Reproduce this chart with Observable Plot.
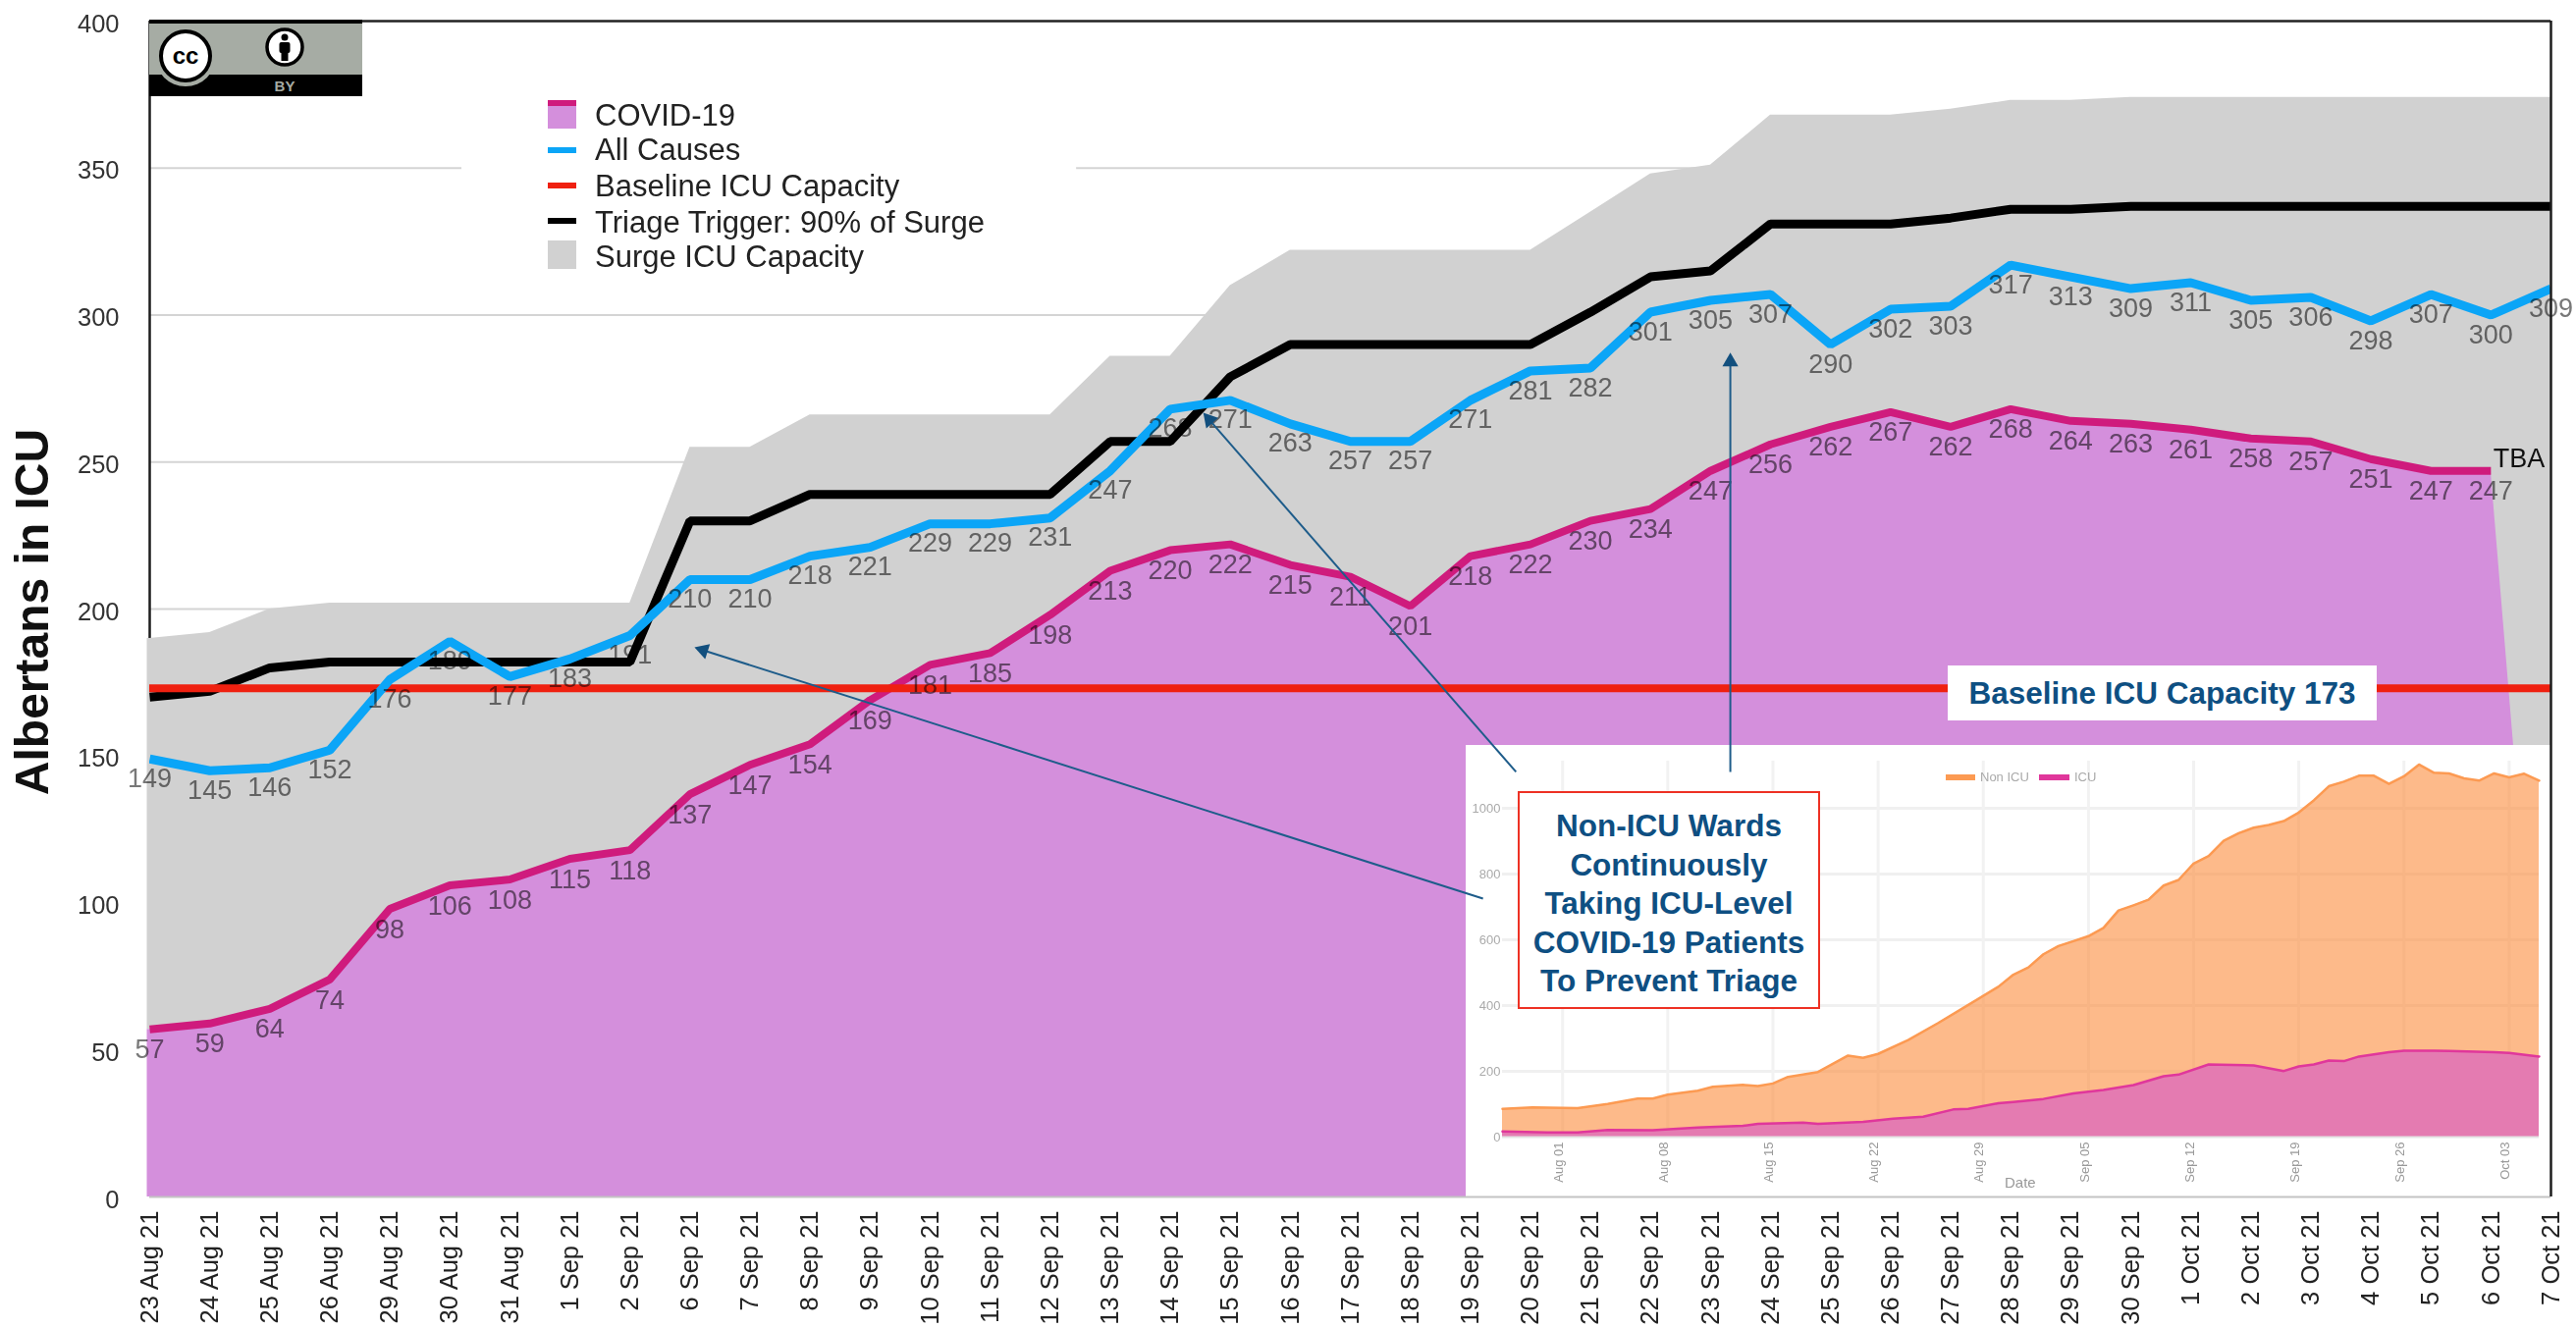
<!DOCTYPE html>
<html>
<head>
<meta charset="utf-8">
<script src="https://cdn.jsdelivr.net/npm/d3@7"></script>
<script src="https://cdn.jsdelivr.net/npm/@observablehq/plot@0.6"></script>
<style>
  html, body { margin: 0; padding: 0; background: #fff; overflow: hidden; }
  body { width: 2624px; height: 1353px; position: relative; font-family: "Liberation Sans", Helvetica, Arial, sans-serif; }
  .layer { position: absolute; left: 0; top: 0; }
  .layer svg, svg.layer { display: block; background: transparent; overflow: visible; }
  .abs { position: absolute; white-space: nowrap; }
  .legend-text { left: 606px; font-size: 31px; line-height: 36px; color: #222; transform: translateY(-18px); }
  .swatch { position: absolute; left: 558px; width: 29px; }
</style>
</head>
<body>
<script>
// ---------- main chart data ----------
const dateLabels = [
  "23 Aug 21","24 Aug 21","25 Aug 21","26 Aug 21","29 Aug 21","30 Aug 21","31 Aug 21",
  "1 Sep 21","2 Sep 21","6 Sep 21","7 Sep 21","8 Sep 21","9 Sep 21","10 Sep 21","11 Sep 21",
  "12 Sep 21","13 Sep 21","14 Sep 21","15 Sep 21","16 Sep 21","17 Sep 21","18 Sep 21","19 Sep 21",
  "20 Sep 21","21 Sep 21","22 Sep 21","23 Sep 21","24 Sep 21","25 Sep 21","26 Sep 21","27 Sep 21",
  "28 Sep 21","29 Sep 21","30 Sep 21","1 Oct 21","2 Oct 21","3 Oct 21","4 Oct 21","5 Oct 21","6 Oct 21","7 Oct 21"
];
const covid = [57,59,64,74,98,106,108,115,118,137,147,154,169,181,185,198,213,220,222,215,211,201,218,222,230,234,247,256,262,267,262,268,264,263,261,258,257,251,247,247];
const covidArea = [57,59,64,74,98,106,108,115,118,137,147,154,169,181,185,198,213,220,222,215,211,201,218,222,230,234,247,256,262,267,262,268,264,263,261,258,257,251,247,247,0];
const allCauses = [149,145,146,152,176,189,177,183,191,210,210,218,221,229,229,231,247,268,271,263,257,257,271,281,282,301,305,307,290,302,303,317,313,309,311,305,306,298,307,300,309];
const trigger = [170,172,180,182,182,182,182,182,182,230,230,239,239,239,239,239,257,257,279,290,290,290,290,290,301,313,315,331,331,331,333,336,336,337,337,337,337,337,337,337,337];
const surge = [190,192,200,202,202,202,202,202,202,255,255,266,266,266,266,266,286,286,310,322,322,322,322,322,335,348,351,368,368,368,370,373,373,374,374,374,374,374,374,374,374];
const baseline = 173;
const yTicks = [0,50,100,150,200,250,300,350,400];
const gridLeft = [300,250,200,150,100,50];

// annotation arrows: from index/value to index/value (head rotation in degrees)
const arrowFromIdx = [22.21,22.76,26.33];
const arrowFromVal = [101.5,144.6,144.6];
const arrowToIdx = [9.22,17.65,26.33];
const arrowToVal = [186,264.4,284.1];
const arrowAngle = [-72.4,-41,0];

// ---------- inset chart data (days after 28 Jul 2021) ----------
const totalDay = [0,2,5,7,9,10,11,13,14,16,17,18,19,21,23,24,25,27,29,31,33,34,35,36,37,38,39,40,41,42,43,44,45,46,47,48,49,50,51,52,53,54,55,56,57,58,59,60,61,62,63,64,65,66,67,68,69];
const totalVal = [86,90,88,101,117,117,129,141,153,159,155,163,183,198,248,241,253,295,347,402,457,494,516,556,581,596,611,636,689,705,722,765,782,832,855,901,924,941,949,961,987,1024,1067,1081,1099,1099,1074,1097,1133,1108,1106,1091,1084,1106,1094,1105,1084];
const icuDay = [0,3,5,7,10,13,16,17,20,21,24,26,28,30,31,33,34,36,38,40,42,44,45,47,50,52,53,54,55,56,57,59,60,62,63,66,67,69];
const icuVal = [17,14,14,22,21,29,34,40,44,40,46,56,62,84,86,103,107,116,133,143,158,185,190,221,218,201,215,221,233,231,245,258,263,263,262,258,256,245];
const insetTickDays = [4,11,18,25,32,39,46,53,60,67];
const insetYTicks = [0,200,400,600,800,1000];

// ---------- shared main-plot geometry ----------
const mainGeom = {
  width: 2624, height: 1353,
  marginLeft: 152, marginRight: 26, marginTop: 21, marginBottom: 134
};
const rows = a => a.map((v, i) => ({ i, v }));
const labelFill = "#787878";
const labelFont = 27;

const main = Plot.plot({
  ...mainGeom,
  x: { type: "linear", domain: [0, 40] },
  y: { type: "linear", domain: [0, 400] },
  style: { fontFamily: "Liberation Sans, Helvetica, Arial, sans-serif", background: "transparent", overflow: "visible" },
  marks: [
    Plot.ruleY(gridLeft, { stroke: "#d4d4d4", strokeWidth: 2 }),
    // 350 gridline is interrupted by the legend's white backing
    Plot.ruleY([350], { x1: 0, x2: 5.2, stroke: "#d4d4d4", strokeWidth: 2 }),
    Plot.ruleY([350], { x1: 15.44, x2: 40, stroke: "#d4d4d4", strokeWidth: 2 }),
    // left axis is hidden behind the capacity areas
    Plot.ruleX([0], { y1: 190, y2: 400, stroke: "#1c1c1c", strokeWidth: 2.5 }),
    Plot.areaY(rows(surge), { x: "i", y: "v", fill: "#d1d1d1" }),
    Plot.areaY(rows(covidArea), { x: "i", y: "v", fill: "#d48fdc" }),
    Plot.ruleX([0], { y1: 57, y2: 190, stroke: "#d1d1d1", strokeWidth: 3, dx: -1.5 }),
    Plot.ruleX([0], { y1: 0, y2: 57, stroke: "#d48fdc", strokeWidth: 3, dx: -1.5 }),
    Plot.lineY(rows(covid), { x: "i", y: "v", stroke: "#cf1b7d", strokeWidth: 8, strokeLinecap: "butt", strokeLinejoin: "miter", clip: true }),
    Plot.lineY(rows(trigger), { x: "i", y: "v", stroke: "#000", strokeWidth: 9, strokeLinecap: "butt", strokeLinejoin: "miter", clip: true }),
    Plot.ruleY([baseline], { stroke: "#ef2010", strokeWidth: 8 }),
    Plot.lineY(rows(allCauses), { x: "i", y: "v", stroke: "#0ba5f7", strokeWidth: 9, strokeLinecap: "butt", strokeLinejoin: "miter", clip: true }),
    Plot.text(rows(covid), { x: "i", y: "v", text: d => String(d.v), dy: 21, fontSize: labelFont, fill: labelFill, mixBlendMode: "multiply" }),
    Plot.text(rows(allCauses), { x: "i", y: "v", text: d => String(d.v), dy: 20, fontSize: labelFont, fill: labelFill, mixBlendMode: "multiply" }),
    Plot.text(["TBA"], { x: 39.47, y: 251, text: d => d, fontSize: 27, fill: "#111" }),
    Plot.axisY({ ticks: yTicks, tickSize: 0, tickPadding: 31, fontSize: 25.5, color: "#333", label: null, dy: 3 }),
    Plot.axisX({ ticks: dateLabels.map((d, i) => i), tickFormat: i => dateLabels[i], tickRotate: -90, tickSize: 0, tickPadding: 14, fontSize: 25.5, color: "#222", label: null }),
    Plot.text(["Albertans in ICU"], { x: -1.94, y: 199, text: d => d, rotate: -90, fontSize: 48, fontWeight: "bold", fill: "#111" })
  ]
});
const mainWrap = document.createElement("div");
mainWrap.className = "layer";
mainWrap.append(main);
document.body.append(mainWrap);

// ---------- inset ----------
const day = d => new Date(Date.UTC(2021, 6, 28 + d));
const insetTop = 759, insetLeft = 1493;
const inset = Plot.plot({
  width: 1105, height: 461,
  marginLeft: 37, marginRight: 12, marginTop: 0, marginBottom: 62,
  x: { type: "utc", domain: [day(0), day(69)] },
  y: { domain: [0, 1191] },
  style: { fontFamily: "Liberation Sans, Helvetica, Arial, sans-serif", background: "#fff", overflow: "visible" },
  marks: [
    Plot.ruleY(insetYTicks.slice(1), { stroke: "#f0f0f0", strokeWidth: 3 }),
    Plot.ruleX(insetTickDays.map(day), { y1: 0, y2: 1143, stroke: "#f2f2f2", strokeWidth: 3 }),
    Plot.areaY(totalDay.map((d, i) => ({ d: day(d), v: totalVal[i] })), { x: "d", y: "v", fill: "#fb8c3c", fillOpacity: 0.6 }),
    Plot.lineY(totalDay.map((d, i) => ({ d: day(d), v: totalVal[i] })), { x: "d", y: "v", stroke: "#fc9a52", strokeWidth: 2.5 }),
    Plot.areaY(icuDay.map((d, i) => ({ d: day(d), v: icuVal[i] })), { x: "d", y: "v", fill: "#e47bb1" }),
    Plot.lineY(icuDay.map((d, i) => ({ d: day(d), v: icuVal[i] })), { x: "d", y: "v", stroke: "#e0379b", strokeWidth: 2.5 }),
    Plot.ruleY([0], { stroke: "#e4e4e4", strokeWidth: 2 }),
    Plot.axisY({ ticks: insetYTicks, tickFormat: d => String(d), tickSize: 0, tickPadding: 2, fontSize: 13, color: "#aaaaaa", label: null }),
    Plot.axisX({ ticks: insetTickDays.map(day), tickFormat: d3.utcFormat("%b %d"), tickRotate: -90, tickSize: 0, tickPadding: 5, fontSize: 13, color: "#999999", label: null, dx: -4 })
  ]
});
inset.style.position = "absolute";
inset.style.left = insetLeft + "px";
inset.style.top = insetTop + "px";
document.body.append(inset);

// ---------- overlay: frame and arrows above the inset ----------
const arrows = arrowFromIdx.map((a, k) => ({ x1: a, y1: arrowFromVal[k], x2: arrowToIdx[k], y2: arrowToVal[k], r: arrowAngle[k] }));
const over = Plot.plot({
  ...mainGeom,
  x: { type: "linear", domain: [0, 40], axis: null },
  y: { type: "linear", domain: [0, 400], axis: null },
  style: { background: "transparent", overflow: "visible" },
  marks: [
    Plot.ruleY([400], { stroke: "#222", strokeWidth: 2.5 }),
    Plot.ruleY([0], { stroke: "#c4c4c4", strokeWidth: 2 }),
    Plot.ruleX([40], { stroke: "#1c1c1c", strokeWidth: 2.5 }),
    Plot.link(arrows, { x1: "x1", y1: "y1", x2: "x2", y2: "y2", stroke: "#1e5c8a", strokeWidth: 2 }),
    Plot.dot(arrows, { x: "x2", y: "y2", symbol: "triangle", r: 6, rotate: "r", fill: "#124f7e", stroke: "none" })
  ]
});
const overWrap = document.createElement("div");
overWrap.className = "layer";
overWrap.append(over);
document.body.append(overWrap);

// ---------- HTML annotations ----------
function add(html) { const t = document.createElement("template"); t.innerHTML = html.trim(); document.body.append(t.content.firstChild); }

// legend
const legendNames = ["COVID-19","All Causes","Baseline ICU Capacity","Triage Trigger: 90% of Surge","Surge ICU Capacity"];
const legendY = [118,153,190,227,262];
legendNames.forEach((n, i) => add(`<div class="abs legend-text" style="top:${legendY[i]}px">${n}</div>`));
add(`<div class="swatch" style="top:102px;height:29px;background:#d48fdc;border-top:6px solid #cf1b7d;box-sizing:border-box"></div>`);
add(`<div class="swatch" style="top:150px;height:6px;background:#0ba5f7"></div>`);
add(`<div class="swatch" style="top:186px;height:6px;background:#ef2010"></div>`);
add(`<div class="swatch" style="top:222px;height:6px;background:#000"></div>`);
add(`<div class="swatch" style="top:245px;height:29px;background:#d1d1d1"></div>`);

// baseline label
add(`<div class="abs" style="left:1984px;top:678px;width:437px;height:56px;background:#fff;color:#0e4f82;font-weight:bold;font-size:31.5px;line-height:56px;text-align:center">Baseline ICU Capacity 173</div>`);

// red callout box
const calloutLines = ["Non-ICU Wards","Continuously","Taking ICU-Level","COVID-19 Patients","To Prevent Triage"];
add(`<div class="abs" style="left:1546px;top:806px;width:304px;height:218px;background:#fff;border:2.5px solid #ee3124;color:#0e4f82;font-weight:bold;font-size:31.5px;line-height:39.5px;text-align:center;padding-top:0;box-sizing:content-box"><div style="margin-top:14px">${calloutLines.join("<br>")}</div></div>`);

// inset legend and axis title
add(`<div class="abs" style="left:1982px;top:789px;width:30px;height:6px;background:#fc9a52"></div>`);
add(`<div class="abs" style="left:2017px;top:784px;font-size:13px;line-height:16px;color:#aaa">Non ICU</div>`);
add(`<div class="abs" style="left:2077px;top:789px;width:31px;height:6px;background:#e0379b"></div>`);
add(`<div class="abs" style="left:2113px;top:784px;font-size:13px;line-height:16px;color:#aaa">ICU</div>`);
add(`<div class="abs" style="left:2042px;top:1196px;font-size:15px;line-height:18px;color:#999">Date</div>`);

// CC BY badge
add(`<svg class="abs" style="left:152px;top:20px" width="217" height="78" xmlns="http://www.w3.org/2000/svg">
  <rect width="217" height="78" fill="#000"/>
  <rect y="4" width="217" height="52" fill="#a6aca4"/>
  <circle cx="37" cy="37" r="31" fill="#a6aca4"/>
  <circle cx="37" cy="37" r="25" fill="#fff" stroke="#000" stroke-width="4"/>
  <text x="37" y="45" text-anchor="middle" font-size="24" font-weight="bold" font-family="Liberation Sans" fill="#000">cc</text>
  <circle cx="138" cy="28" r="18" fill="#fff" stroke="#000" stroke-width="3.5"/>
  <circle cx="138" cy="18" r="3.5" fill="#000"/>
  <rect x="132.5" y="23" width="11" height="11" rx="2" fill="#000"/>
  <rect x="134.5" y="32" width="7" height="10" fill="#000"/>
  <text x="138" y="73" text-anchor="middle" font-size="15" font-weight="bold" font-family="Liberation Sans" fill="#a6aca4">BY</text>
</svg>`);
</script>
</body>
</html>
